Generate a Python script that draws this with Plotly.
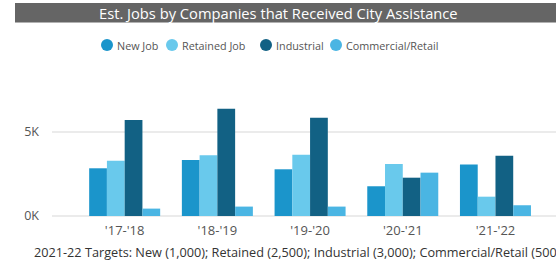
import plotly.graph_objects as go

categories = ["'17-'18", "'18-'19", "'19-'20", "'20-'21", "'21-'22"]
new_job = [2840, 3330, 2780, 1770, 3060]
retained_job = [3290, 3610, 3650, 3100, 1150]
industrial = [5710, 6390, 5850, 2280, 3590]
commercial_retail = [440, 560, 560, 2580, 640]

series_names = ["New Job", "Retained Job", "Industrial", "Commercial/Retail"]
series_values = [new_job, retained_job, industrial, commercial_retail]
colors = ["#1b95cb", "#69c9ec", "#126184", "#4ab5e3"]

y_ticks = [0, 5000]
y_tick_labels = ["0K", "5K"]

title_text = "Est. Jobs by Companies that Received City Assistance"
footnote = "2021-22 Targets: New (1,000); Retained (2,500); Industrial (3,000); Commercial/Retail (500)"

FONT = "Open Sans"

# pixel geometry helpers
L, R, T, B = 52, 0, 70, 58
W, H = 556, 274
pw = W - L - R
ph = H - T - B
def px(x):
    return (x - L) / pw
def py(y):
    return (H - B - y) / ph

fig = go.Figure()
for name, vals, col in zip(series_names, series_values, colors):
    fig.add_trace(go.Bar(x=categories, y=vals, name=name, marker_color=col,
                         marker_line_width=0, showlegend=False))

# hand-built legend (circle + label), positions in pixels
legend_circle_x = [107, 172, 266, 336]
legend_text_x = [114.5, 179.5, 273.5, 343.5]
legend_y = 45
shapes = [dict(type="rect", xref="paper", yref="paper",
               x0=px(15), x1=px(560), y0=py(22.5), y1=py(3),
               fillcolor="#656565", line_width=0, layer="below")]
annotations = [
    dict(text=title_text, xref="paper", yref="paper", x=px(278), y=py(12.8),
         xanchor="center", yanchor="middle", showarrow=False,
         font=dict(family=FONT, size=14.7, color="white")),
    dict(text=footnote, xref="paper", yref="paper", x=px(32), y=py(252),
         xanchor="left", yanchor="middle", showarrow=False,
         font=dict(family=FONT, size=12.7, color="#333333")),
]
for name, col, cx, tx in zip(series_names, colors, legend_circle_x, legend_text_x):
    shapes.append(dict(type="circle", xref="paper", yref="paper",
                       xsizemode="pixel", ysizemode="pixel",
                       xanchor=px(cx), yanchor=py(legend_y),
                       x0=-6, x1=6, y0=-6, y1=6,
                       fillcolor=col, line_width=0))
    annotations.append(dict(text=name, xref="paper", yref="paper", x=px(tx), y=py(legend_y),
                            xanchor="left", yanchor="middle", showarrow=False,
                            font=dict(family=FONT, size=10.8, color="#555555")))

fig.update_layout(
    width=W, height=H,
    margin=dict(l=L, r=R, t=T, b=B, pad=0, autoexpand=False),
    plot_bgcolor="white", paper_bgcolor="white",
    barmode="group", bargap=0.234, bargroupgap=0,
    showlegend=False,
    font=dict(family=FONT, color="#555555", size=12),
    xaxis=dict(range=[-0.784, 4.653], showgrid=False, ticks="", showline=False,
               tickfont=dict(size=13, color="#555555"), ticklabelstandoff=5),
    yaxis=dict(range=[0, 8690], tickvals=y_ticks, ticktext=y_tick_labels,
               showgrid=True, gridcolor="#ebebeb", gridwidth=1.5,
               zeroline=True, zerolinecolor="#ebebeb", zerolinewidth=1.5,
               tickfont=dict(size=12.5, color="#555555"), ticklabelstandoff=12),
    shapes=shapes,
    annotations=annotations,
)

fig.write_html("out.html", config={"displayModeBar": False},
               post_script="document.body.style.margin='0';document.body.style.overflow='hidden';")
